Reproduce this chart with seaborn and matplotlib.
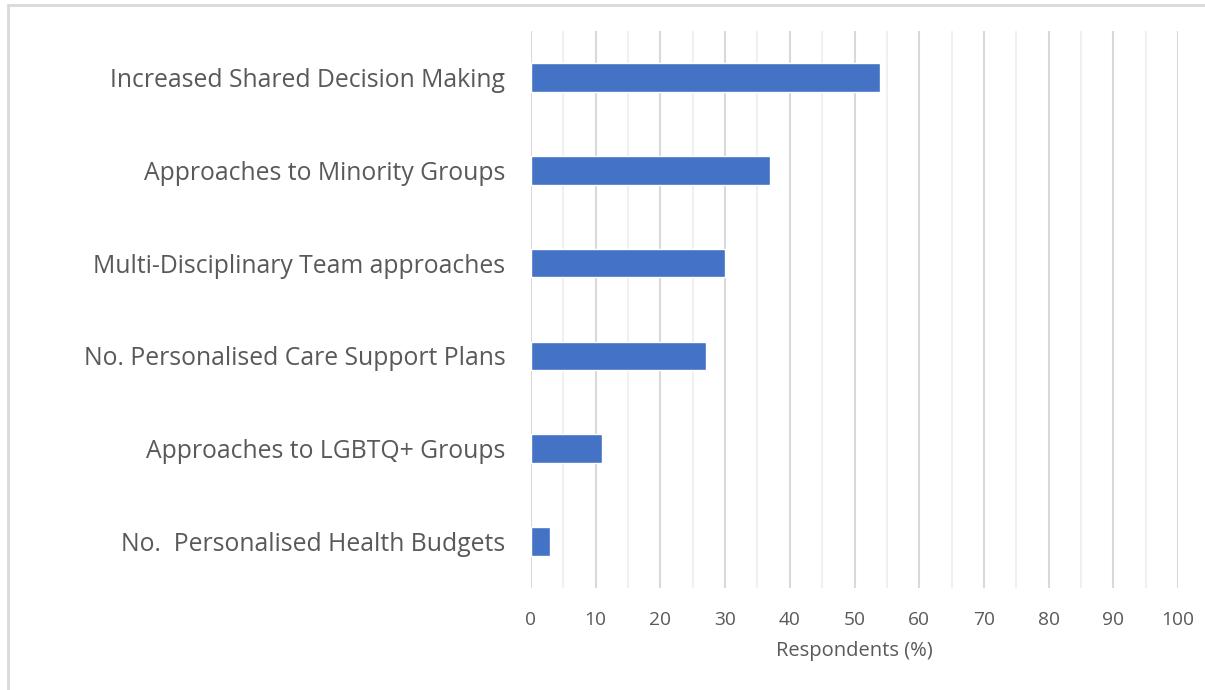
import matplotlib
matplotlib.use("Agg")
import matplotlib.pyplot as plt
from matplotlib.lines import Line2D
from matplotlib.ticker import MultipleLocator
import seaborn as sns
import pandas as pd

categories = [
    "Increased Shared Decision Making",
    "Approaches to Minority Groups",
    "Multi-Disciplinary Team approaches",
    "No. Personalised Care Support Plans",
    "Approaches to LGBTQ+ Groups",
    "No.  Personalised Health Budgets",
]
respondents_pct = [54, 37, 30, 27, 11, 3]
x_ticks = [0, 10, 20, 30, 40, 50, 60, 70, 80, 90, 100]

sns.set_theme(style="white")
plt.rcParams["font.family"] = ["Open Sans", "DejaVu Sans"]

df = pd.DataFrame({"category": categories, "pct": respondents_pct})

W, H = 1205, 690
fig = plt.figure(figsize=(W / 100, H / 100), dpi=100)
ax = fig.add_axes([531 / W, 1 - 588 / H, (1178 - 531) / W, (588 - 31) / H])

sns.barplot(data=df, x="pct", y="category", orient="h", color="#4472C4",
            saturation=1, width=0.31, ax=ax, zorder=3)

ax.set_xlim(0, 100)
ax.set_ylim(5.5, -0.5)
ax.set_xticks(x_ticks)
ax.xaxis.set_minor_locator(MultipleLocator(5))
ax.grid(axis="x", which="major", color="#d9d9d9", linewidth=1.5, zorder=0)
ax.grid(axis="x", which="minor", color="#f0f0f0", linewidth=1.5, zorder=0)
ax.grid(axis="y", visible=False)
ax.set_axisbelow(True)
for s in ax.spines.values():
    s.set_visible(False)

ax.tick_params(axis="x", which="both", length=0, pad=16.5, labelsize=13.8,
               labelcolor="#595959")
ax.tick_params(axis="y", length=0, pad=18.5, labelsize=17.8, labelcolor="#595959")
ax.set_ylabel("")
ax.set_xlabel("Respondents (%)", fontsize=14.5, color="#595959", labelpad=8.5)

# light outer frame along the top and left edges
fig.add_artist(Line2D([8 / W, 1], [1 - 5 / H, 1 - 5 / H], color="#d9d9d9",
                      linewidth=2, transform=fig.transFigure))
fig.add_artist(Line2D([8 / W, 8 / W], [0, 1 - 5 / H], color="#d9d9d9",
                      linewidth=2, transform=fig.transFigure))

fig.savefig("out.png", dpi=100, facecolor="white")
